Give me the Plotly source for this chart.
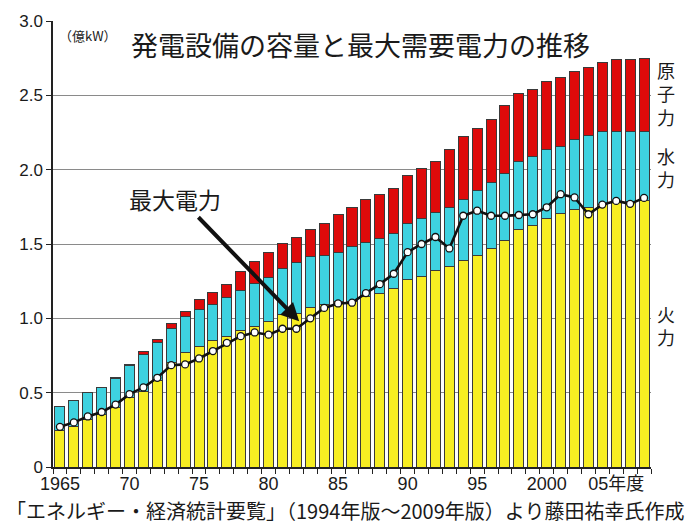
import plotly.graph_objects as go

# 年度
years = list(range(1965, 2008))

# 発電設備容量 (億kW)
thermal = [0.245, 0.275, 0.32, 0.35, 0.40, 0.47, 0.51, 0.585, 0.70, 0.77,
           0.813, 0.85, 0.88, 0.915, 0.945, 0.98, 1.025, 1.035, 1.073, 1.095,
           1.113, 1.115, 1.15, 1.17, 1.20, 1.263, 1.28, 1.324, 1.35, 1.39,
           1.424, 1.47, 1.524, 1.60, 1.624, 1.673, 1.702, 1.735, 1.747, 1.769,
           1.78, 1.785, 1.79]
hydro = [0.165, 0.175, 0.18, 0.185, 0.195, 0.21, 0.25, 0.25, 0.23, 0.24,
         0.249, 0.24, 0.26, 0.27, 0.29, 0.293, 0.31, 0.34, 0.34, 0.33,
         0.33, 0.369, 0.36, 0.37, 0.373, 0.377, 0.393, 0.389, 0.397, 0.41,
         0.436, 0.443, 0.449, 0.453, 0.463, 0.462, 0.456, 0.467, 0.482, 0.489,
         0.478, 0.473, 0.468]
nuclear = [0.0, 0.0, 0.0, 0.0, 0.005, 0.01, 0.015, 0.02, 0.035, 0.037,
           0.066, 0.086, 0.089, 0.128, 0.145, 0.167, 0.167, 0.172, 0.185, 0.21,
           0.253, 0.263, 0.29, 0.29, 0.303, 0.322, 0.334, 0.345, 0.389, 0.424,
           0.42, 0.427, 0.458, 0.46, 0.453, 0.46, 0.462, 0.46, 0.455, 0.464,
           0.482, 0.482, 0.493]

# 最大需要電力 (億kW)
peak = [0.27, 0.30, 0.34, 0.37, 0.42, 0.49, 0.535, 0.60, 0.685, 0.69,
        0.73, 0.78, 0.835, 0.88, 0.905, 0.89, 0.93, 0.93, 1.00, 1.07,
        1.10, 1.105, 1.17, 1.23, 1.30, 1.445, 1.50, 1.547, 1.47, 1.69,
        1.724, 1.69, 1.69, 1.695, 1.70, 1.747, 1.835, 1.813, 1.70, 1.765,
        1.79, 1.77, 1.81]

# 軸ラベル
x_tick_years = [1965, 1970, 1975, 1980, 1985, 1990, 1995, 2000, 2005]
x_tick_text = ["1965", "70", "75", "80", "85", "90", "95", "2000", "05年度"]
y_tick_vals = [0, 0.5, 1.0, 1.5, 2.0, 2.5, 3.0]
y_tick_text = ["0", "0.5", "1.0", "1.5", "2.0", "2.5", "3.0"]

JP = "Noto Sans CJK JP"
NUM = "Liberation Sans, Arial, Noto Sans CJK JP"
INK = "#1a1a1a"
EDGE = dict(color="#3a3a3a", width=1)

fig = go.Figure()
fig.add_trace(go.Bar(x=years, y=thermal, name="火力",
                     marker=dict(color="#F7EE22", line=EDGE)))
fig.add_trace(go.Bar(x=years, y=hydro, name="水力",
                     marker=dict(color="#3ED2E0", line=EDGE)))
fig.add_trace(go.Bar(x=years, y=nuclear, name="原子力",
                     marker=dict(color="#DE0A0A", line=EDGE)))
fig.add_trace(go.Scatter(x=years, y=peak, name="最大電力", mode="lines+markers",
                         line=dict(color="#111111", width=2.6),
                         marker=dict(size=7, color="white",
                                     line=dict(color="#111111", width=1.3))))

# 棒と棒の境目に目盛り線
boundaries = [y - 0.5 for y in years] + [years[-1] + 0.5]

fig.update_layout(
    width=692, height=527,
    margin=dict(l=53, r=41, t=16, b=60),
    paper_bgcolor="white", plot_bgcolor="white",
    barmode="stack", bargap=0.28,
    showlegend=False,
    font=dict(family=NUM, color=INK),
    xaxis=dict(
        range=[1964.5, 2007.5],
        tickmode="array", tickvals=x_tick_years, ticktext=x_tick_text,
        ticks="outside", ticklen=0, tickcolor="rgba(0,0,0,0)",
        tickfont=dict(size=18, family=NUM, color=INK),
        showgrid=False, zeroline=False,
        showline=True, linecolor="#222222", linewidth=1.5,
        minor=dict(tickmode="array", tickvals=boundaries, ticks="outside",
                   ticklen=5, tickcolor="#222222", showgrid=False),
    ),
    yaxis=dict(
        range=[0, 3.0],
        tickmode="array", tickvals=y_tick_vals, ticktext=y_tick_text,
        ticks="outside", ticklen=5, tickcolor="#222222",
        tickfont=dict(size=17, family=NUM, color=INK),
        showgrid=True, gridcolor="#8a8a8a", gridwidth=1,
        zeroline=False,
        showline=True, linecolor="#222222", linewidth=1.5,
    ),
)

annotations = [
    dict(x=1967.0, y=2.905, text="（億kW）", showarrow=False,
         font=dict(family=JP, size=13, color=INK)),
    dict(x=1986.6, y=2.845, text="発電設備の容量と最大需要電力の推移", showarrow=False,
         font=dict(family=JP, size=27, color=INK)),
    dict(x=1973.3, y=1.80, text="最大電力", showarrow=False,
         font=dict(family=JP, size=23, color=INK)),
    dict(x=1982.2, y=0.98, ax=1974.85, ay=1.69, axref="x", ayref="y",
         text="", showarrow=True, arrowhead=2, arrowsize=0.9,
         arrowwidth=4, arrowcolor="#111111"),
    dict(xref="paper", yref="paper", x=0.4875, y=-(526.5 - 467) / 451,
         xanchor="center", yanchor="bottom", borderpad=0,
         text="「エネルギー・経済統計要覧」（1994年版～2009年版）より藤田祐幸氏作成",
         showarrow=False, font=dict(family=JP, size=20, color=INK)),
]

# 右側の縦書きラベル (1文字ごとに改行)
side_labels = [("原子力", 89.5), ("水力", 164), ("火力", 324)]
for label, center_px in side_labels:
    annotations.append(dict(xref="paper", yref="paper",
                            x=(666 - 53) / 598, y=(467 - center_px) / 451,
                            xanchor="center", yanchor="middle", borderpad=0,
                            text="<br>".join(label), showarrow=False,
                            font=dict(family=JP, size=18, color=INK)))

fig.update_layout(annotations=annotations)

fig.write_html("out.html")
